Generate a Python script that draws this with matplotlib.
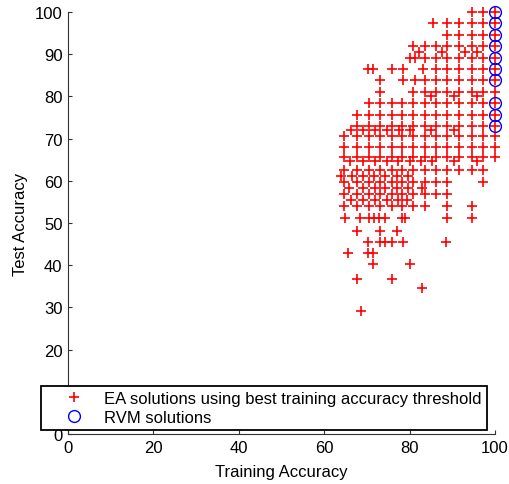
import matplotlib
matplotlib.use('Agg')
import matplotlib.pyplot as plt

plt.rcParams['font.family'] = ['Liberation Sans', 'DejaVu Sans']

# test accuracy levels (rows of the red cloud) and the training accuracies seen on each row
test_levels = [100.0, 97.3, 94.6, 91.9, 89.2, 86.5, 83.8, 81.1, 78.4, 75.7, 73.0,
               70.6, 68.0, 65.6, 62.5, 59.7, 56.9, 54.0, 51.2, 48.1, 45.5, 42.9,
               40.3, 36.7, 34.6, 29.1]
train_rows = [
    [100, 97.2, 94.6],
    [100, 97.2, 94.6, 91.6, 88.8, 85.5],
    [100, 97.2, 94.6, 91.6, 88.8],
    [100, 97.2, 94.6, 91.6, 88.8, 86.2, 83.6, 80.8],
    [100, 97.2, 94.6, 91.6, 88.8, 86.2, 83.6, 81.3, 80.1],
    [100, 97.2, 94.6, 91.6, 88.8, 86.2, 83.1, 78.5, 75.9, 71.5, 70.3],
    [100, 97.2, 94.6, 91.6, 88.8, 86.2, 83.6, 81.3, 78.5, 73.1],
    [100, 97.2, 94.6, 91.6, 88.8, 86.2, 83.6, 80.8, 73.1],
    [100, 97.2, 94.6, 91.6, 88.8, 86.2, 83.6, 80.8, 78.2, 75.9, 73.1, 70.5],
    [100, 97.2, 94.6, 91.6, 88.8, 86.2, 83.6, 80.8, 78.2, 75.9, 73.1, 70.5, 67.7],
    [100, 97.2, 94.6, 91.6, 88.8, 86.2, 83.6, 80.8, 78.2, 75.9, 73.1, 70.5, 67.7],
    [100, 97.2, 94.6, 91.6, 88.8, 86.2, 83.6, 80.8, 78.2, 75.9, 73.1, 70.5, 67.7, 64.7],
    [100, 97.2, 94.6, 91.6, 88.8, 86.2, 83.6, 80.8, 78.2, 75.9, 73.1, 70.5, 67.7, 64.7],
    [100, 97.2, 94.6, 91.6, 88.8, 86.2, 83.6, 80.8, 78.2, 75.9, 73.1, 70.5, 67.7, 64.7],
    [97.2, 94.6, 91.6, 88.8, 86.2, 83.6, 80.8, 78.2, 75.9, 73.1, 70.5, 67.7, 64.7],
    [97.2, 88.8, 86.2, 83.6, 80.8, 78.2, 75.9, 73.1, 70.5, 67.7, 64.7],
    [88.8, 86.2, 83.6, 80.8, 78.2, 75.9, 73.1, 70.5, 67.7, 64.7],
    [94.6, 88.8, 83.6, 80.8, 78.2, 75.9, 73.1, 70.5, 67.7, 64.7],
    [94.6, 88.8, 78.9, 78.2, 74.3, 72.8, 71.7, 70.5, 68.4, 64.9],
    [77.0, 73.1, 67.7],
    [88.5, 78.4, 75.9, 74.2, 73.1, 70.3],
    [71.5, 70.3, 65.6],
    [80.1, 71.5],
    [75.9, 67.7],
    [82.9],
    [68.6],
]

# second, slightly shifted set of EA points that overlaps the dense part of the cloud
extra_levels = [90.5, 80.0, 72.0, 64.6, 61.2, 58.3, 55.4]
extra_rows = [
    [82.3, 87.5, 93.0, 95.9],
    [85.0, 90.3, 95.8],
    [66.3, 69.2, 72.0, 74.8, 77.4, 80.2, 85.0, 90.4],
    [66.1, 69.0, 71.8, 74.6, 77.3, 80.0, 82.6, 85.3, 90.3, 95.8],
    [64.0, 66.6, 69.0, 71.7, 74.3, 77.0, 79.6],
    [65.8, 69.2, 71.8, 74.3, 77.1, 79.7, 83.0],
    [66.3, 69.0, 71.9, 74.6, 77.2, 79.5],
]

# RVM solutions, all at 100% training accuracy
rvm_train = [100, 100, 100, 100, 100, 100, 100, 100, 100, 100]
rvm_test = [100.0, 97.3, 94.6, 91.9, 89.2, 86.5, 83.8, 78.4, 75.7, 73.0]

ea_x = []
ea_y = []
for lvl, row in zip(test_levels + extra_levels, train_rows + extra_rows):
    for v in row:
        ea_x.append(v)
        ea_y.append(lvl)

fig = plt.figure(figsize=(5.09, 4.85), dpi=100)
ax = fig.add_axes([0.1336, 0.1031, 0.8389, 0.8701])

ax.plot(ea_x, ea_y, '+', color='red', markersize=7.5, mew=1.2, clip_on=False,
        label='EA solutions using best training accuracy threshold')
ax.plot(rvm_train, rvm_test, 'o', color='blue', markerfacecolor='none',
        markersize=8.5, mew=1.0, clip_on=False, label='RVM solutions')

ax.set_xlim(0, 100)
ax.set_ylim(0, 100)
ax.set_xticks(range(0, 101, 20))
ax.set_yticks(range(0, 101, 10))
ax.spines['top'].set_visible(False)
ax.spines['right'].set_visible(False)
for s in ['left', 'bottom']:
    ax.spines[s].set_color('#333333')
    ax.spines[s].set_linewidth(0.8)
ax.tick_params(direction='in', length=3, width=0.8, color='#333333',
               labelsize=12, pad=4)

ax.set_xlabel('Training Accuracy', fontsize=12, labelpad=7)
ax.set_ylabel('Test Accuracy', fontsize=12, labelpad=5)

leg = ax.legend(loc='lower left', bbox_to_anchor=(-0.063, 0.0095, 1.044, 0.11),
                mode='expand', borderaxespad=0, fontsize=12, fancybox=False,
                framealpha=1, edgecolor='black', borderpad=0.3,
                handlelength=3.3, handletextpad=0.2, labelspacing=0.25)
leg.get_frame().set_linewidth(1.3)

fig.savefig('out.png', dpi=100)
